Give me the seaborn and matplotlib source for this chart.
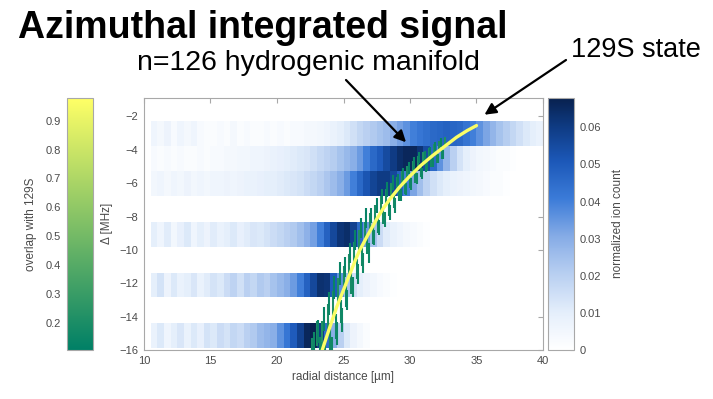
import numpy as np
import matplotlib
matplotlib.use("Agg")
import matplotlib.pyplot as plt
import seaborn as sns
from matplotlib.colors import LinearSegmentedColormap, Normalize
from matplotlib.cm import ScalarMappable

# ---------------- data ----------------
r_edges_start, r_edges_stop, r_step = 10.0, 40.0, 0.5

band_top = [-2.3, -3.8, -5.3, -8.3, -11.4, -14.4]
band_bottom = [-3.75, -5.25, -6.75, -9.8, -12.85, -15.9]

band1 = [0.000, 0.006, 0.004, 0.007, 0.003, 0.006, 0.004, 0.006, 0.003, 0.002,
         0.002, 0.003, 0.002, 0.004, 0.002, 0.003, 0.002, 0.002, 0.003, 0.002,
         0.003, 0.002, 0.003, 0.003, 0.004, 0.004, 0.005, 0.006, 0.008, 0.010,
         0.012, 0.015, 0.018, 0.020, 0.022, 0.024, 0.026, 0.030, 0.033, 0.036,
         0.040, 0.042, 0.044, 0.046, 0.047, 0.048, 0.047, 0.046, 0.043, 0.040,
         0.036, 0.032, 0.028, 0.024, 0.021, 0.018, 0.015, 0.012, 0.010, 0.008]
band2 = [0.000, 0.003, 0.002, 0.003, 0.002, 0.003, 0.002, 0.002, 0.003, 0.002,
         0.003, 0.003, 0.004, 0.004, 0.005, 0.005, 0.006, 0.006, 0.007, 0.008,
         0.009, 0.010, 0.011, 0.012, 0.013, 0.015, 0.017, 0.019, 0.021, 0.024,
         0.027, 0.030, 0.034, 0.040, 0.046, 0.050, 0.055, 0.060, 0.064, 0.066,
         0.066, 0.062, 0.055, 0.046, 0.036, 0.028, 0.020, 0.014, 0.010, 0.007,
         0.005, 0.004, 0.003, 0.002, 0.002, 0.001, 0.000, 0.000, 0.000, 0.000]
band3 = [0.000, 0.005, 0.006, 0.004, 0.006, 0.005, 0.007, 0.005, 0.006, 0.005,
         0.006, 0.006, 0.007, 0.006, 0.007, 0.008, 0.008, 0.009, 0.010, 0.010,
         0.011, 0.012, 0.013, 0.014, 0.016, 0.018, 0.020, 0.023, 0.026, 0.030,
         0.034, 0.040, 0.046, 0.052, 0.057, 0.060, 0.060, 0.056, 0.048, 0.040,
         0.032, 0.025, 0.019, 0.015, 0.012, 0.010, 0.008, 0.007, 0.006, 0.005,
         0.004, 0.003, 0.002, 0.002, 0.001, 0.000, 0.000, 0.000, 0.000, 0.000]
band4 = [0.000, 0.010, 0.006, 0.011, 0.005, 0.009, 0.012, 0.006, 0.010, 0.007,
         0.011, 0.008, 0.010, 0.012, 0.009, 0.011, 0.013, 0.012, 0.014, 0.016,
         0.018, 0.020, 0.022, 0.025, 0.029, 0.033, 0.040, 0.048, 0.056, 0.062,
         0.064, 0.058, 0.046, 0.034, 0.024, 0.016, 0.011, 0.008, 0.006, 0.004,
         0.003, 0.002, 0.001, 0.000, 0.000, 0.000, 0.000, 0.000, 0.000, 0.000,
         0.000, 0.000, 0.000, 0.000, 0.000, 0.000, 0.000, 0.000, 0.000, 0.000]
band5 = [0.000, 0.010, 0.014, 0.007, 0.012, 0.008, 0.010, 0.013, 0.008, 0.011,
         0.014, 0.012, 0.016, 0.019, 0.015, 0.020, 0.018, 0.022, 0.020, 0.024,
         0.027, 0.030, 0.034, 0.040, 0.048, 0.056, 0.063, 0.062, 0.050, 0.036,
         0.024, 0.015, 0.010, 0.007, 0.005, 0.003, 0.002, 0.001, 0.000, 0.000,
         0.000, 0.000, 0.000, 0.000, 0.000, 0.000, 0.000, 0.000, 0.000, 0.000,
         0.000, 0.000, 0.000, 0.000, 0.000, 0.000, 0.000, 0.000, 0.000, 0.000]
band6 = [0.000, 0.008, 0.012, 0.006, 0.010, 0.013, 0.008, 0.012, 0.009, 0.014,
         0.012, 0.016, 0.014, 0.018, 0.016, 0.020, 0.022, 0.026, 0.028, 0.030,
         0.036, 0.042, 0.050, 0.058, 0.066, 0.068, 0.060, 0.045, 0.030, 0.020,
         0.012, 0.007, 0.004, 0.002, 0.000, 0.000, 0.000, 0.000, 0.000, 0.000,
         0.000, 0.000, 0.000, 0.000, 0.000, 0.000, 0.000, 0.000, 0.000, 0.000,
         0.000, 0.000, 0.000, 0.000, 0.000, 0.000, 0.000, 0.000, 0.000, 0.000]
bands = [band1, band2, band3, band4, band5, band6]

# 129S state trajectory
curve_r = [23.4, 23.65, 23.9, 24.2, 24.5, 24.75, 25.0, 25.3, 25.6, 25.9, 26.2,
           26.5, 26.8, 27.15, 27.5, 28.0, 28.5, 29.2, 29.9, 30.8, 31.7, 32.6,
           33.5, 34.3, 35.0]
curve_delta = [-16.0, -15.4, -14.8, -14.1, -13.4, -12.9, -12.4, -11.8, -11.2,
               -10.6, -10.05, -9.6, -9.15, -8.65, -8.15, -7.5, -6.95, -6.25,
               -5.65, -4.95, -4.35, -3.8, -3.25, -2.85, -2.55]
curve_overlap = 0.96

# hydrogenic manifold states (vertical segments)
seg_r = [22.6, 22.8, 23.0, 23.2, 23.4, 23.6, 23.8, 24.0, 24.2, 24.4,
         24.6, 24.8, 25.0, 25.2, 25.4, 25.6, 25.8, 26.0, 26.2, 26.4,
         26.6, 26.8, 27.0, 27.2, 27.4, 27.6, 27.8, 28.0, 28.2, 28.4,
         28.6, 28.8, 29.0, 29.2, 29.4, 29.6, 29.8, 30.0, 30.2, 30.4,
         30.6, 30.8, 31.0, 31.2, 31.4, 31.6, 31.8, 32.0, 32.2, 32.4, 32.6,
         23.1, 23.3, 23.5, 23.7, 23.9, 24.1, 24.3, 24.5, 24.7, 24.9,
         25.1, 25.3, 25.5, 25.7, 25.9, 26.1, 26.3, 26.5, 26.7, 26.9,
         27.1, 27.3, 27.5, 27.7, 27.9, 28.1, 28.3, 28.5, 28.7, 28.9,
         29.1, 29.3, 29.5, 29.7, 29.9, 30.1, 30.3, 30.5, 30.7, 30.9,
         31.1, 31.3, 31.5, 31.7, 31.9, 32.1, 32.3, 32.5]
seg_lo = [-16.7, -16.4, -15.75, -16.5, -15.75, -17.1, -14.75, -16.25, -13.95, -15.35,
          -13.1, -14.4, -12.25, -13.45, -11.48, -12.62, -10.7, -11.75, -9.98, -10.98,
          -9.45, -10.25, -8.85, -9.65, -8.3, -9.0, -7.75, -8.45, -7.28, -7.95,
          -6.86, -7.5, -6.46, -7.07, -6.09, -6.68, -5.75, -6.32, -5.43, -5.98,
          -5.12, -5.65, -4.84, -5.35, -4.57, -5.06, -4.3, -4.79, -4.05, -4.53, -3.8,
          -15.6, -16.9, -14.85, -17.6, -13.9, -16.65, -12.95, -15.7, -12.1, -14.9,
          -11.6, -13.6, -10.8, -12.8, -10.0, -12.05, -9.3, -11.4, -8.7, -10.8,
          -8.37, -9.69, -7.8, -9.13, -7.27, -8.64, -6.82, -8.2, -6.4, -7.8,
          -6.15, -7.06, -5.79, -6.72, -5.45, -6.4, -5.14, -6.08, -4.82, -5.78,
          -4.62, -5.3, -4.35, -5.02, -4.1, -4.78, -3.86, -4.54]
seg_hi = [-15.3, -14.9, -14.25, -15.2, -14.25, -15.7, -13.25, -14.75, -12.45, -13.85,
          -11.7, -13.0, -10.95, -12.15, -10.22, -11.38, -9.5, -10.55, -8.82, -9.82,
          -8.35, -9.15, -7.8, -8.6, -7.3, -8.0, -6.8, -7.5, -6.38, -7.05,
          -5.98, -6.63, -5.62, -6.23, -5.29, -5.88, -4.97, -5.54, -4.68, -5.24,
          -4.40, -4.93, -4.14, -4.65, -3.91, -4.4, -3.67, -4.17, -3.45, -3.93, -3.22,
          -14.2, -15.5, -13.45, -16.2, -12.5, -15.25, -11.55, -14.3, -10.7, -13.5,
          -10.4, -12.4, -9.6, -11.6, -8.8, -10.85, -8.1, -10.2, -7.5, -9.6,
          -7.47, -8.79, -6.9, -8.23, -6.37, -7.74, -5.92, -7.3, -5.5, -6.9,
          -5.45, -6.36, -5.09, -6.02, -4.75, -5.7, -4.44, -5.38, -4.12, -5.08,
          -4.08, -4.75, -3.81, -4.48, -3.56, -4.24, -3.32, -4.0]
seg_overlap = [0.18, 0.15, 0.20, 0.16, 0.22, 0.15, 0.20, 0.17, 0.21, 0.16,
               0.22, 0.17, 0.20, 0.16, 0.22, 0.18, 0.20, 0.16, 0.22, 0.18,
               0.20, 0.17, 0.22, 0.18, 0.20, 0.17, 0.22, 0.18, 0.20, 0.17,
               0.22, 0.18, 0.20, 0.17, 0.22, 0.18, 0.20, 0.17, 0.22, 0.18,
               0.20, 0.17, 0.22, 0.18, 0.20, 0.17, 0.22, 0.18, 0.20, 0.17, 0.22,
               0.14, 0.16, 0.13, 0.15, 0.14, 0.16, 0.13, 0.15, 0.14, 0.16,
               0.13, 0.15, 0.14, 0.16, 0.13, 0.15, 0.14, 0.16, 0.13, 0.15,
               0.14, 0.16, 0.13, 0.15, 0.14, 0.16, 0.13, 0.15, 0.14, 0.16,
               0.13, 0.15, 0.14, 0.16, 0.13, 0.15, 0.14, 0.16, 0.13, 0.15,
               0.14, 0.16, 0.13, 0.15, 0.14, 0.16, 0.13, 0.15]

x_ticks = [10, 15, 20, 25, 30, 35, 40]
y_ticks = [-16, -14, -12, -10, -8, -6, -4, -2]
ion_ticks = [0, 0.01, 0.02, 0.03, 0.04, 0.05, 0.06]
ion_tick_labels = ["0", "0.01", "0.02", "0.03", "0.04", "0.05", "0.06"]
ov_ticks = [0.2, 0.3, 0.4, 0.5, 0.6, 0.7, 0.8, 0.9]

title = "Azimuthal integrated signal"
note1 = "n=126 hydrogenic manifold"
note2 = "129S state"

# ---------------- style ----------------
sns.set_theme(style="white")
plt.rcParams["font.family"] = ["Liberation Sans", "DejaVu Sans"]
GRAY = "#4a4a4a"
FRAME = "#a8a8a8"

W, H = 713, 399
fig = plt.figure(figsize=(W / 100, H / 100), dpi=100)
fig.patch.set_facecolor("white")


def fr(x0, y_top, x1, y_bot):
    return [x0 / W, 1 - y_bot / H, (x1 - x0) / W, (y_bot - y_top) / H]


ax = fig.add_axes(fr(144, 97.7, 543, 350))
cax_l = fig.add_axes(fr(66.7, 97.7, 93.3, 350))
cax_r = fig.add_axes(fr(548.3, 97.7, 574.3, 350))

ion_cmap = LinearSegmentedColormap.from_list(
    "ion",
    [(0.0, "#ffffff"), (0.15, "#e4eefb"), (0.30, "#b8cff1"), (0.45, "#86ace6"),
     (0.60, "#3b7bd8"), (0.75, "#1c58b8"), (0.88, "#0f3c85"), (1.0, "#08214f")])
ion_norm = Normalize(0, 0.068)
ov_cmap = plt.get_cmap("summer")
ov_norm = Normalize(0.105, 0.98)

x_edges = np.arange(r_edges_start, r_edges_stop + 1e-9, r_step)
for vals, top, bot in zip(bands, band_top, band_bottom):
    ax.pcolormesh(x_edges, [bot, top], np.array(vals)[None, :],
                  cmap=ion_cmap, norm=ion_norm, shading="flat", zorder=1)

ax.vlines(seg_r, seg_lo, seg_hi, colors=ov_cmap(ov_norm(np.array(seg_overlap))),
          linewidth=1.5, zorder=3)
sns.lineplot(x=curve_r, y=curve_delta, sort=False, ax=ax,
             color=ov_cmap(ov_norm(curve_overlap)), linewidth=2.4, zorder=4)

ax.set_xlim(10, 40)
ax.set_ylim(-16, -0.88)
ax.set_xticks(x_ticks)
ax.set_yticks(y_ticks)
ax.set_xlabel("radial distance [µm]", fontsize=8.5, color=GRAY, labelpad=4)
ax.set_ylabel("Δ [MHz]", fontsize=8.5, color=GRAY, labelpad=5)
ax.tick_params(direction="in", length=3.5, width=0.8, color=FRAME,
               labelsize=8, labelcolor=GRAY, top=True, right=True, pad=4)
for s in ax.spines.values():
    s.set_color(FRAME)
    s.set_linewidth(0.8)

# right colorbar
cb_r = fig.colorbar(ScalarMappable(norm=ion_norm, cmap=ion_cmap), cax=cax_r)
cb_r.set_ticks(ion_ticks)
cb_r.set_ticklabels(ion_tick_labels)
cb_r.ax.tick_params(direction="in", length=3, width=0.8, color=FRAME,
                    labelsize=8, labelcolor=GRAY, pad=4)
cb_r.set_label("normalized ion count", fontsize=8.5, color=GRAY, labelpad=8)
cb_r.outline.set_edgecolor(FRAME)
cb_r.outline.set_linewidth(0.8)

# left colorbar
cb_l = fig.colorbar(ScalarMappable(norm=ov_norm, cmap=ov_cmap), cax=cax_l)
cb_l.set_ticks(ov_ticks)
cax_l.yaxis.set_ticks_position("left")
cax_l.yaxis.set_label_position("left")
cb_l.ax.tick_params(direction="in", length=3, width=0.8, color=FRAME,
                    labelsize=8, labelcolor=GRAY, pad=4)
cb_l.set_label("overlap with 129S", fontsize=8.5, color=GRAY, labelpad=6)
cb_l.outline.set_edgecolor(FRAME)
cb_l.outline.set_linewidth(0.8)

# texts and arrows
fig.text(18 / W, 1 - 38 / H, title, fontsize=27, fontweight="bold",
         color="black", va="baseline", ha="left")
fig.text(137 / W, 1 - 70 / H, note1, fontsize=20.5, color="black",
         va="baseline", ha="left")
fig.text(701 / W, 1 - 57 / H, note2, fontsize=19.5, color="black",
         va="baseline", ha="right")

arrow = dict(arrowstyle="-|>", color="black", lw=1.6, mutation_scale=17,
             shrinkA=0, shrinkB=0)
ax.annotate("", xy=(29.7, -3.55), xycoords="data",
            xytext=(346 / W, 1 - 80 / H), textcoords="figure fraction",
            arrowprops=arrow, annotation_clip=False)
ax.annotate("", xy=(35.6, -1.9), xycoords="data",
            xytext=(566 / W, 1 - 60 / H), textcoords="figure fraction",
            arrowprops=arrow, annotation_clip=False)

fig.savefig("out.png", dpi=100, facecolor="white")
